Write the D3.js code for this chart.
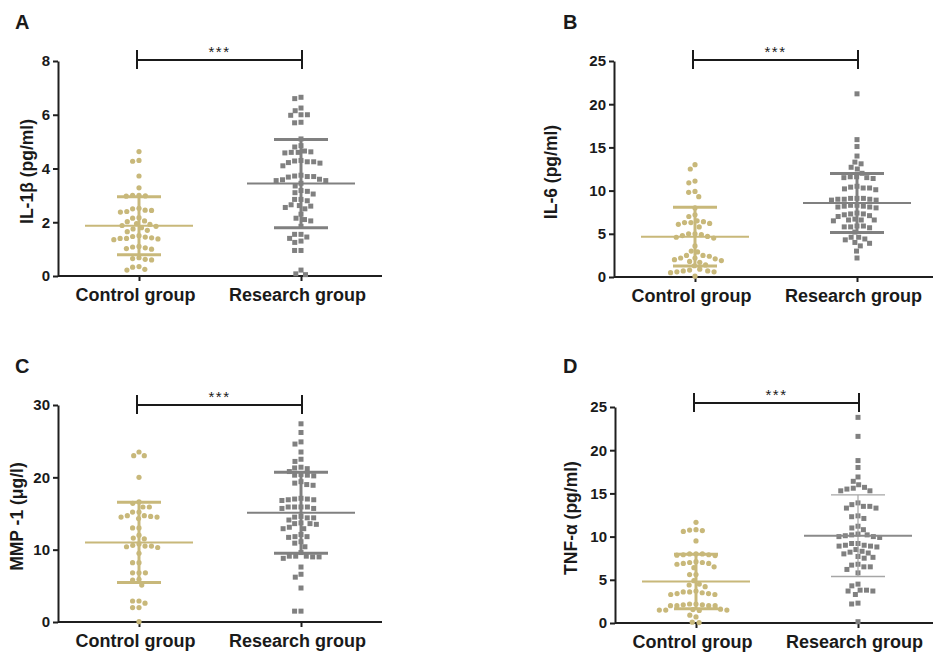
<!DOCTYPE html>
<html>
<head>
<meta charset="UTF-8">
<title>Cytokine levels by group</title>
<script src="https://d3js.org/d3.v7.min.js"></script>
<style>
    body { margin: 0; background: #fff; }
    text { font-family: "Liberation Sans", Arial, sans-serif; font-weight: bold; fill: #1a1a1a; }
    .axis path, .axis line { stroke: #1f1f1f; stroke-width: 2px; }
    .axis text { font-size: 15px; }
    .cat-axis text { font-size: 18px; }
    .ytitle { font-size: 17.5px; text-anchor: middle; }
    .letter { font-size: 20px; }
    .stars { font-size: 15px; font-weight: normal; text-anchor: middle; letter-spacing: 1.5px; }
    .bracket { stroke: #1a1a1a; stroke-width: 2px; fill: none; }
</style>
</head>
<body>
<script>
    const groups = ["Control group", "Research group"];

    // A: IL-1beta (pg/ml)
    const il1bControl = [4.63, 4.3, 4.27, 3.72, 3.28, 3.0, 2.98, 3.0, 2.97, 2.52, 2.45, 2.4, 2.38, 2.44, 2.5,
        2.17, 2.15, 2.02, 1.95, 1.88, 1.8, 1.75, 1.85, 1.92, 1.5, 1.45, 1.4, 1.38, 1.35, 1.4, 1.42, 1.47,
        1.1, 1.05, 1.0, 1.02, 1.08, 0.68, 0.62, 0.6, 0.65, 0.35, 0.25, 0.22, 0.33, 1.7, 1.65, 2.05];
    const il1bResearch = [6.65, 6.6, 6.25, 6.15, 6.0, 6.0, 5.98, 5.72, 5.7, 5.1, 4.85, 4.8, 4.62, 4.6, 4.6,
        4.58, 4.65, 4.28, 4.25, 4.22, 4.1, 4.2, 4.25, 4.3, 3.75, 3.7, 3.68, 3.7, 3.72, 3.58, 3.55, 3.45,
        3.55, 3.6, 3.15, 3.05, 3.1, 3.18, 2.85, 2.8, 2.85, 2.6, 2.55, 2.5, 2.62, 2.65, 2.15, 2.05, 2.1,
        1.85, 1.55, 1.4, 1.45, 1.55, 1.3, 1.25, 0.95, 0.95, 0.22, 0.05, 0.08, 3.35, 2.3];
    const il1bMean = [1.87, 3.44];
    const il1bSd = [1.08, 1.64];
    const il1bTicks = [0, 2, 4, 6, 8];

    // B: IL-6 (pg/ml)
    const il6Control = [13.0, 12.5, 11.1, 10.9, 9.9, 9.8, 9.3, 8.0, 7.2, 7.0, 6.5, 6.3, 6.2, 6.4, 6.1, 6.3,
        5.8, 5.0, 4.9, 5.0, 4.8, 4.6, 4.5, 4.7, 3.6, 3.0, 2.9, 2.5, 2.2, 2.0, 1.9, 2.1, 2.2, 2.5, 1.8, 1.7,
        1.3, 1.4, 0.8, 0.7, 0.6, 0.6, 0.5, 0.7, 0.9, 0.1, 2.4];
    const il6Research = [21.2, 15.9, 15.1, 14.0, 13.3, 13.1, 12.7, 12.5, 12.0, 11.6, 11.5, 11.4, 11.5, 11.6,
        10.5, 10.3, 10.2, 10.3, 10.1, 10.4, 9.1, 9.0, 8.9, 9.1, 8.9, 9.0, 9.1, 9.0, 8.3, 8.2, 8.1, 8.0, 8.2,
        8.3, 8.1, 7.3, 7.2, 7.0, 7.1, 7.3, 7.4, 6.6, 6.6, 6.5, 6.6, 6.7, 5.9, 5.8, 5.7, 5.8, 5.9, 5.2, 4.6,
        4.4, 4.3, 4.6, 4.0, 3.9, 3.6, 3.0, 2.2];
    const il6Mean = [4.66, 8.56];
    const il6Sd = [3.4, 3.42];
    const il6Ticks = [0, 5, 10, 15, 20, 25];

    // C: MMP-1 (ug/l)
    const mmpControl = [23.5, 23.0, 23.0, 20.0, 16.6, 16.4, 15.9, 15.9, 15.2, 15.2, 14.7, 14.5, 14.6, 14.3,
        14.5, 14.7, 13.0, 13.0, 12.0, 11.6, 11.5, 10.6, 10.4, 10.3, 10.5, 10.5, 10.8, 9.5, 8.2, 8.2, 6.8,
        6.8, 6.8, 5.9, 5.8, 5.1, 2.9, 2.9, 2.6, 2.0, 2.0, 0.05];
    const mmpResearch = [27.4, 26.2, 24.9, 24.6, 23.5, 22.5, 22.2, 21.4, 21.2, 21.3, 20.8, 20.3, 20.2, 20.3,
        20.4, 19.2, 19.4, 18.9, 19.0, 17.1, 16.9, 16.9, 17.0, 16.8, 17.0, 15.9, 15.7, 15.9, 15.7, 15.9, 15.9,
        14.6, 14.4, 14.1, 14.4, 14.5, 13.6, 13.5, 13.6, 13.7, 12.9, 13.1, 12.9, 12.1, 11.8, 11.8, 11.7, 10.9,
        10.4, 11.1, 9.1, 9.0, 8.8, 9.0, 9.1, 9.1, 9.6, 7.6, 6.2, 6.6, 4.7, 1.5, 1.5];
    const mmpMean = [11.0, 15.1];
    const mmpSd = [5.55, 5.6];
    const mmpTicks = [0, 10, 20, 30];

    // D: TNF-alpha (pg/ml)
    const tnfControl = [11.65, 10.8, 10.7, 10.6, 10.75, 9.5, 8.0, 7.9, 7.8, 8.0, 7.9, 7.85, 8.0, 7.0, 6.9,
        7.1, 6.8, 6.9, 7.0, 6.4, 6.5, 5.6, 5.6, 4.5, 4.4, 3.6, 3.4, 3.5, 3.3, 3.4, 3.3, 3.6, 3.7, 2.2, 2.0,
        2.0, 2.1, 2.0, 2.0, 2.1, 2.2, 1.6, 1.5, 1.5, 1.45, 1.5, 1.55, 0.7, 0.9, 0.1, 0.05, 4.9, 4.2];
    const tnfResearch = [23.8, 21.6, 18.8, 18.0, 16.9, 16.4, 16.0, 15.7, 15.5, 15.3, 15.3, 15.6, 13.9, 13.5,
        13.3, 13.3, 13.5, 13.7, 12.4, 12.3, 12.1, 11.2, 11.0, 10.8, 10.2, 10.1, 10.0, 9.9, 10.0, 10.2, 10.3,
        9.2, 9.0, 8.9, 8.9, 9.0, 9.2, 8.8, 8.3, 8.1, 8.0, 8.2, 8.5, 7.6, 7.5, 7.7, 6.7, 6.5, 6.5, 6.8, 6.2,
        5.8, 4.5, 4.3, 3.8, 3.7, 3.3, 3.7, 3.8, 2.3, 2.2, 0.15];
    const tnfMean = [4.8, 10.1];
    const tnfSd = [3.15, 4.72];
    const tnfTicks = [0, 5, 10, 15, 20, 25];

    const ctrlColor = "#c8b87a";
    const resColor = "#808080";

    const width = 933, height = 661;

    const svg = d3.select("body").append("svg")
        .attr("width", width)
        .attr("height", height);

    // layout of the four panels
    const panels = [
        { letter: "A", title: "IL-1\u03b2 (pg/ml)", data: [il1bControl, il1bResearch], mean: il1bMean, sd: il1bSd,
          ticks: il1bTicks, x0: 58, top: 61, bottom: 276, titleX: 27, letterX: 15, letterY: 29, bracketY: 60, thin: false },
        { letter: "B", title: "IL-6 (pg/ml)", data: [il6Control, il6Research], mean: il6Mean, sd: il6Sd,
          ticks: il6Ticks, x0: 614, top: 61, bottom: 277, titleX: 551, letterX: 563, letterY: 29, bracketY: 60, thin: false },
        { letter: "C", title: "MMP -1 (\u03bcg/l)", data: [mmpControl, mmpResearch], mean: mmpMean, sd: mmpSd,
          ticks: mmpTicks, x0: 58, top: 405, bottom: 622, titleX: 17, letterX: 15, letterY: 373, bracketY: 405, thin: false },
        { letter: "D", title: "TNF-\u03b1 (pg/ml)", data: [tnfControl, tnfResearch], mean: tnfMean, sd: tnfSd,
          ticks: tnfTicks, x0: 615, top: 407, bottom: 623, titleX: 571, letterX: 563, letterY: 373, bracketY: 403, thin: true }
    ];

    // simple beeswarm: each point gets the smallest horizontal shift that avoids the ones already placed
    function swarm(values, y, diam) {
        const placed = [];
        const sorted = values.map((v, i) => ({ v, i, y: y(v) })).sort((a, b) => b.v - a.v);
        sorted.forEach(p => {
            const cands = [0];
            placed.forEach(q => {
                const dy = Math.abs(q.y - p.y);
                if (dy < diam) {
                    const dx = Math.sqrt(diam * diam - dy * dy);
                    cands.push(q.dx - dx - 0.01, q.dx + dx + 0.01);
                }
            });
            cands.sort((a, b) => Math.abs(a) - Math.abs(b) || a - b);
            for (const c of cands) {
                const ok = placed.every(q => {
                    const dy = q.y - p.y, dx = q.dx - c;
                    return dx * dx + dy * dy >= diam * diam - 0.05;
                });
                if (ok) { p.dx = c; break; }
            }
            placed.push(p);
        });
        return placed;
    }

    panels.forEach(pn => {
        const y = d3.scaleLinear().domain(d3.extent(pn.ticks)).range([pn.bottom, pn.top]);
        const x = d3.scalePoint().domain(groups).range([pn.x0, pn.x0 + 324]).padding(0.5);
        const g = svg.append("g");

        g.append("text").attr("class", "letter")
            .attr("x", pn.letterX).attr("y", pn.letterY).text(pn.letter);

        g.append("g").attr("class", "axis")
            .attr("transform", `translate(${pn.x0},0)`)
            .call(d3.axisLeft(y).tickValues(pn.ticks).tickSize(5).tickSizeOuter(0).tickPadding(3));

        g.append("g").attr("class", "axis cat-axis")
            .attr("transform", `translate(0,${pn.bottom})`)
            .call(d3.axisBottom(x).tickSize(5).tickSizeOuter(0).tickPadding(7))
            .call(a => a.select(".domain").attr("d", `M${pn.x0},0H${pn.x0 + 324}`))
            .call(a => a.selectAll(".tick text").attr("dx", -4));

        g.append("text").attr("class", "ytitle")
            .attr("transform", `translate(${pn.titleX},${(pn.top + pn.bottom) / 2 + 3}) rotate(-90)`)
            .attr("dy", "0.35em")
            .text(pn.title);

        // significance bracket
        const bx1 = x(groups[0]) - 2, bx2 = x(groups[1]) + 1;
        g.append("path").attr("class", "bracket")
            .attr("d", `M${bx1},${pn.bracketY - 10}V${pn.bracketY + 9}M${bx1},${pn.bracketY}H${bx2}M${bx2},${pn.bracketY - 10}V${pn.bracketY + 9}`);
        g.append("text").attr("class", "stars")
            .attr("x", (bx1 + bx2) / 2).attr("y", pn.bracketY - 3).text("***");

        pn.data.forEach((vals, gi) => {
            const cx = x(groups[gi]);
            const color = gi === 0 ? ctrlColor : resColor;
            const pts = swarm(vals, y, 6.4);

            if (gi === 0) {
                g.append("g").selectAll("circle").data(pts).join("circle")
                    .attr("cx", d => cx + d.dx).attr("cy", d => d.y)
                    .attr("r", 2.6).attr("fill", color);
            } else {
                g.append("g").selectAll("rect").data(pts).join("rect")
                    .attr("x", d => cx + d.dx - 2.5).attr("y", d => d.y - 2.5)
                    .attr("width", 5).attr("height", 5).attr("fill", color);
            }

            // mean with SD
            const m = pn.mean[gi], s = pn.sd[gi];
            const thin = pn.thin && gi === 1;
            const capW = gi === 0 ? 22 : 27;
            const barColor = thin ? "#a6a6a6" : color;
            const eb = g.append("g").attr("stroke", barColor).attr("fill", "none");
            eb.append("line")
                .attr("x1", cx).attr("x2", cx)
                .attr("y1", y(m - s)).attr("y2", y(m + s))
                .attr("stroke-width", thin ? 1.2 : 3);
            [m - s, m + s].forEach(v => {
                eb.append("line")
                    .attr("x1", cx - capW).attr("x2", cx + capW)
                    .attr("y1", y(v)).attr("y2", y(v))
                    .attr("stroke-width", thin ? 1.3 : 3);
            });
            eb.append("line")
                .attr("x1", cx - 54).attr("x2", cx + 54)
                .attr("y1", y(m)).attr("y2", y(m))
                .attr("stroke", thin ? "#8a8a8a" : color)
                .attr("stroke-width", 2);
        });
    });
</script>
</body>
</html>
